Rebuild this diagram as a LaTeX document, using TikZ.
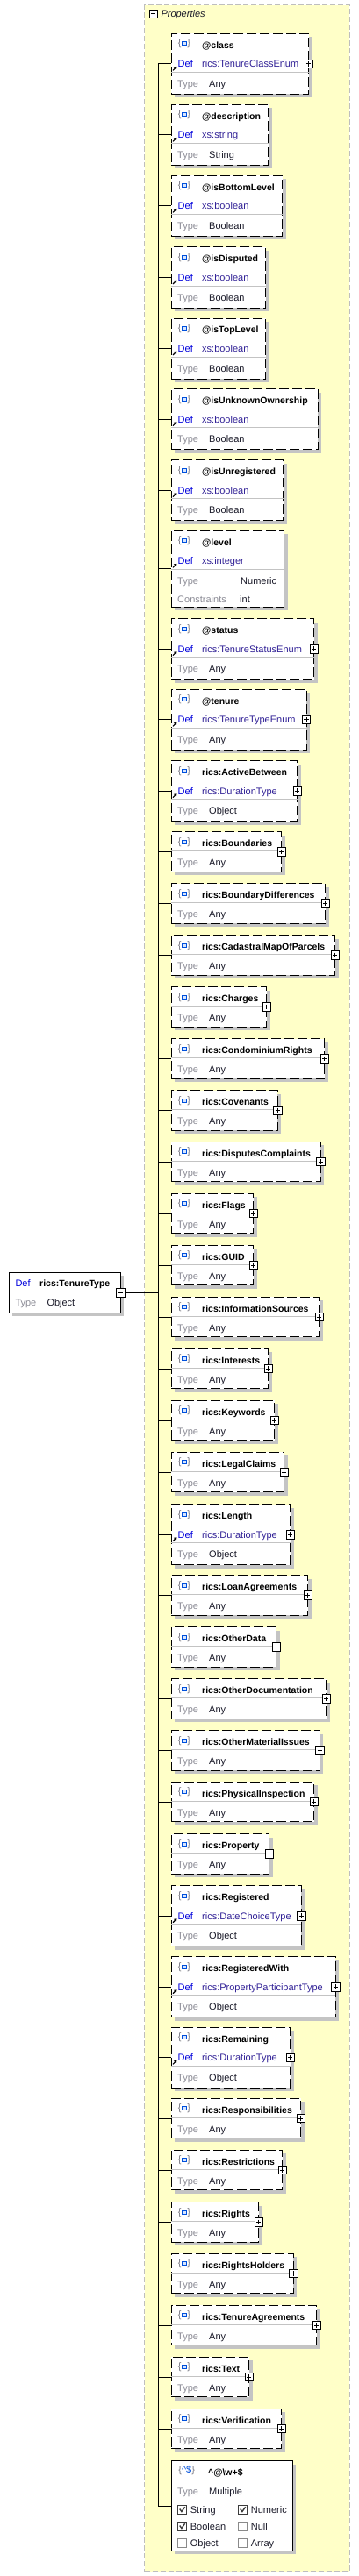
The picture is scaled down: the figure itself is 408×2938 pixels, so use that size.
\documentclass[tikz,border=0pt]{standalone}
\usepackage{fontspec}
\setmainfont{Liberation Sans}
\usetikzlibrary{arrows.meta, shadows}
\definecolor{defblue}{RGB}{0, 0, 220}
\definecolor{defpurple}{RGB}{48, 32, 150}
\definecolor{typegray}{RGB}{140, 140, 150}
\definecolor{typedark}{RGB}{25, 25, 40}
\definecolor{bracegray}{RGB}{120, 120, 130}
\definecolor{iconblue}{RGB}{0, 80, 220}
\definecolor{iconfill}{RGB}{215, 230, 255}
\definecolor{sepgray}{RGB}{195, 195, 195}
\definecolor{shadowgray}{RGB}{196, 196, 196}
\definecolor{propyellow}{RGB}{255, 255, 200}
\definecolor{propborder}{RGB}{190, 190, 190}
\definecolor{chkgray}{RGB}{60, 60, 60}

% element with Def row: id, top, right, name, def, type
\newcommand{\attrbox}[6]{%
  \node[elbox, minimum width={#3-195}, minimum height=69, anchor=north west] (#1) at (195,#2) {};
  \coordinate (#1-j) at (180,{#2+34.5});
  \draw[conn] (#1-j) -- (#1.west);
  \node[bracetxt] (#1-br) at (210,{#2+11.5}) {\{\hspace{7pt}\}};
  \node[iconsq] (#1-ic) at (210,{#2+11.5}) {};
  \node[nametxt] (#1-n) at (230,{#2+16.8}) {#4};
  \draw[defarrow] (197,{#2+42}) -- (201.5,{#2+37.5});
  \node[deflbl] (#1-dl) at (202.5,{#2+38.4}) {Def};
  \node[defval] (#1-dv) at (230,{#2+38.4}) {#5};
  \draw[sep] ([yshift=-44pt]#1.north west) -- ([yshift=-44pt]#1.north east);
  \node[typelbl] (#1-tl) at (202,{#2+61}) {Type};
  \node[typeval] (#1-tv) at (238,{#2+61}) {#6};
}
% element of type Any: id, top, right, name
\newcommand{\anybox}[4]{%
  \node[elbox, minimum width={#3-195}, minimum height=45.5, anchor=north west] (#1) at (195,#2) {};
  \coordinate (#1-j) at (180,{#2+22.75});
  \draw[conn] (#1-j) -- (#1.west);
  \node[bracetxt] (#1-br) at (210,{#2+11.5}) {\{\hspace{7pt}\}};
  \node[iconsq] (#1-ic) at (210,{#2+11.5}) {};
  \node[nametxt] (#1-n) at (230,{#2+16.7}) {#4};
  \draw[sep] ([yshift=-21.7pt]#1.north west) -- ([yshift=-21.7pt]#1.north east);
  \node[typelbl] (#1-tl) at (202,{#2+38.7}) {Type};
  \node[typeval] (#1-tv) at (238,{#2+38.7}) {Any};
  \node[plusbtn] (#1-p) at (#1.east) {};
}

\begin{document}
\begin{tikzpicture}[
    x=1pt, y=-1pt,
    elbox/.style={rectangle, draw=black, line width=1pt, dash pattern=on 11pt off 4pt, fill=white, inner sep=0pt, outer sep=0pt, drop shadow={shadow xshift=4pt, shadow yshift=-4pt, draw=none, fill=shadowgray, opacity=1}},
    rootbox/.style={elbox, solid},
    propsbox/.style={rectangle, draw=propborder, dash pattern=on 6pt off 3pt, line width=1pt, fill=propyellow, inner sep=0pt},
    nametxt/.style={anchor=base west, inner sep=0pt, font=\fontsize{10.5}{12}\selectfont\bfseries, text=black},
    deflbl/.style={anchor=base west, inner sep=0pt, font=\fontsize{11}{13}\selectfont, text=defblue},
    defval/.style={deflbl, text=defpurple},
    typelbl/.style={deflbl, text=typegray},
    typeval/.style={deflbl, text=typedark},
    bracetxt/.style={inner sep=0pt, font=\fontsize{11}{13}\selectfont, text=bracegray},
    iconsq/.style={rectangle, draw=iconblue, fill=iconfill, line width=1.1pt, minimum width=5.5, minimum height=4, inner sep=0pt},
    plusbtn/.style={rectangle, draw=black, fill=white, line width=0.8pt, minimum size=9.5, inner sep=0pt, path picture={\draw[line width=0.8pt] ([xshift=2pt]path picture bounding box.west) -- ([xshift=-2pt]path picture bounding box.east) ([yshift=-2pt]path picture bounding box.north) -- ([yshift=2pt]path picture bounding box.south);}},
    minusbtn/.style={rectangle, draw=black, fill=white, line width=0.8pt, minimum size=9.5, inner sep=0pt, path picture={\draw[line width=0.8pt] ([xshift=2pt]path picture bounding box.west) -- ([xshift=-2pt]path picture bounding box.east);}},
    chkon/.style={rectangle, draw=chkgray, fill=white, line width=0.8pt, minimum size=10, inner sep=0pt, path picture={\draw[line width=1.4pt] ([xshift=2pt, yshift=0.5pt]path picture bounding box.west) -- ([xshift=-0.8pt, yshift=2.5pt]path picture bounding box.south) -- ([xshift=-2pt, yshift=-2.2pt]path picture bounding box.north east);}},
    chkoff/.style={rectangle, draw=chkgray!60, fill=white, line width=0.8pt, minimum size=10, inner sep=0pt},
    conn/.style={draw=black, line width=1pt},
    sep/.style={draw=sepgray, line width=1pt},
    defarrow/.style={line width=1.1pt, -{Triangle[length=3pt, width=4pt]}},
]
\useasboundingbox (0,0) rectangle (408,2938);

% Properties group
\node[propsbox, minimum width=233.4, minimum height=2927, anchor=north west] (props) at (164.3,5.3) {};
\node[minusbtn] (props-btn) at (174.7,15.7) {};
\node[anchor=base west, inner sep=0pt, font=\fontsize{11}{13}\selectfont\itshape, text=typedark] (props-t) at (183.3,20) {Properties};

% Root
\node[rootbox, minimum width=127, minimum height=46, anchor=north west] (tt) at (10.3,1451.3) {};
\node[deflbl] (tt-dl) at (17.3,1467.3) {Def};
\node[nametxt] (tt-n) at (45,1467.3) {rics:TenureType};
\draw[sep] ([yshift=-22.4pt]tt.north west) -- ([yshift=-22.4pt]tt.north east);
\node[typelbl] (tt-tl) at (17.3,1489.7) {Type};
\node[typeval] (tt-tv) at (53.3,1489.7) {Object};
\node[minusbtn] (tt-btn) at (tt.east) {};
\coordinate (tt-j) at (180,1474.3);
\draw[conn] (tt-btn) -- (tt-j);

% Attributes
\attrbox{cls}{38.3}{351.7}{@class}{rics:TenureClassEnum}{Any}
\node[plusbtn] (cls-p) at (cls.east) {};
\attrbox{desc}{119.3}{305.7}{@description}{xs:string}{String}
\attrbox{isbot}{200.3}{321.7}{@isBottomLevel}{xs:boolean}{Boolean}
\attrbox{isdisp}{282}{302.7}{@isDisputed}{xs:boolean}{Boolean}
\attrbox{istop}{363}{302.7}{@isTopLevel}{xs:boolean}{Boolean}
\attrbox{isunk}{443.7}{362.3}{@isUnknownOwnership}{xs:boolean}{Boolean}
\attrbox{isunreg}{524.7}{322.7}{@isUnregistered}{xs:boolean}{Boolean}

% @level
\node[elbox, minimum width=128.7, minimum height=87, anchor=north west] (lvl) at (195,605.3) {};
\coordinate (lvl-j) at (180,648.8);
\draw[conn] (lvl-j) -- (lvl.west);
\node[bracetxt] (lvl-br) at (210,616.8) {\{\hspace{7pt}\}};
\node[iconsq] (lvl-ic) at (210,616.8) {};
\node[nametxt] (lvl-n) at (230,622.1) {@level};
\draw[defarrow] (197,647.3) -- (201.5,642.8);
\node[deflbl] (lvl-dl) at (202.5,643.7) {Def};
\node[defval] (lvl-dv) at (230,643.7) {xs:integer};
\draw[sep] ([yshift=-44pt]lvl.north west) -- ([yshift=-44pt]lvl.north east);
\node[typelbl] (lvl-tl) at (202,666) {Type};
\node[typeval] (lvl-tv) at (274,666) {Numeric};
\node[typelbl] (lvl-cl) at (202,687) {Constraints};
\node[typeval] (lvl-cv) at (273,687) {int};

\attrbox{status}{705.7}{357.7}{@status}{rics:TenureStatusEnum}{Any}
\node[plusbtn] (status-p) at (status.east) {};
\attrbox{tenure}{786.3}{349}{@tenure}{rics:TenureTypeEnum}{Any}
\node[plusbtn] (tenure-p) at (tenure.east) {};

% Elements
\attrbox{actbtw}{867.7}{338.7}{rics:ActiveBetween}{rics:DurationType}{Object}
\node[plusbtn] (actbtw-p) at (actbtw.east) {};
\anybox{bnd}{948.7}{320.7}{rics:Boundaries}
\anybox{bnddiff}{1007.7}{370.7}{rics:BoundaryDifferences}
\anybox{cadmap}{1066.7}{381.7}{rics:CadastralMapOfParcels}
\anybox{chg}{1125.7}{303.7}{rics:Charges}
\anybox{condo}{1184.7}{369.7}{rics:CondominiumRights}
\anybox{cov}{1243.7}{316.3}{rics:Covenants}
\anybox{disp}{1302.3}{365.3}{rics:DisputesComplaints}
\anybox{flags}{1361.3}{288.7}{rics:Flags}
\anybox{guid}{1420.3}{288.7}{rics:GUID}
\anybox{infosrc}{1479.3}{363.7}{rics:InformationSources}
\anybox{intr}{1538.3}{305.7}{rics:Interests}
\anybox{kw}{1597.3}{312.7}{rics:Keywords}
\anybox{legal}{1656.3}{323.7}{rics:LegalClaims}
\attrbox{len}{1715.7}{330.7}{rics:Length}{rics:DurationType}{Object}
\node[plusbtn] (len-p) at (len.east) {};
\anybox{loan}{1796.7}{350.7}{rics:LoanAgreements}
\anybox{othdata}{1855.7}{314.7}{rics:OtherData}
\anybox{othdoc}{1914.7}{371.7}{rics:OtherDocumentation}
\anybox{othmat}{1973.7}{364.3}{rics:OtherMaterialIssues}
\anybox{phys}{2032.3}{357.7}{rics:PhysicalInspection}
\anybox{prop}{2091.7}{306.7}{rics:Property}
\attrbox{reg}{2150.7}{343.3}{rics:Registered}{rics:DateChoiceType}{Object}
\node[plusbtn] (reg-p) at (reg.east) {};
\attrbox{regw}{2231.7}{382.3}{rics:RegisteredWith}{rics:PropertyParticipantType}{Object}
\node[plusbtn] (regw-p) at (regw.east) {};
\attrbox{rem}{2312.3}{330.7}{rics:Remaining}{rics:DurationType}{Object}
\node[plusbtn] (rem-p) at (rem.east) {};
\anybox{resp}{2393.3}{342.7}{rics:Responsibilities}
\anybox{restr}{2452.3}{321.7}{rics:Restrictions}
\anybox{rights}{2511.7}{294.7}{rics:Rights}
\anybox{rhold}{2570.3}{334.3}{rics:RightsHolders}
\anybox{tagree}{2629.3}{360.7}{rics:TenureAgreements}
\anybox{text}{2688.3}{283.7}{rics:Text}
\anybox{verif}{2747.3}{320.7}{rics:Verification}

% Pattern properties
\node[rootbox, minimum width=138.3, minimum height=102.6, anchor=north west] (pat) at (195,2806.7) {};
\coordinate (pat-j) at (180,2858);
\draw[conn] (pat-j) -- (pat.west);
\node[bracetxt] (pat-ic) at (212.7,2817.3) {\{\textcolor{iconblue}{\textasciicircum\$}\}};
\node[nametxt] (pat-n) at (237,2823) {\textasciicircum @\textbackslash w+\$};
\draw[sep] ([yshift=-21.3pt]pat.north west) -- ([yshift=-21.3pt]pat.north east);
\node[typelbl] (pat-tl) at (202,2845) {Type};
\node[typeval] (pat-tv) at (238,2845) {Multiple};
\node[chkon] (c-str) at (207.7,2862) {};
\node[typeval] (c-str-t) at (216.7,2866) {String};
\node[chkon] (c-num) at (276.7,2862) {};
\node[typeval] (c-num-t) at (285.7,2866) {Numeric};
\node[chkon] (c-bool) at (207.7,2881) {};
\node[typeval] (c-bool-t) at (216.7,2885) {Boolean};
\node[chkoff] (c-null) at (276.7,2881) {};
\node[typeval] (c-null-t) at (285.7,2885) {Null};
\node[chkoff] (c-obj) at (207.7,2900) {};
\node[typeval] (c-obj-t) at (216.7,2904) {Object};
\node[chkoff] (c-arr) at (276.7,2900) {};
\node[typeval] (c-arr-t) at (285.7,2904) {Array};

% Trunk
\draw[conn] (cls-j) -- (pat-j);

\end{tikzpicture}
\end{document}
